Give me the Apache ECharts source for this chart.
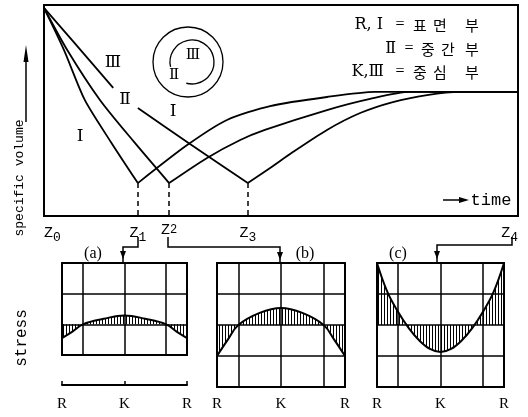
<!DOCTYPE html>
<html>
<head>
<meta charset="utf-8">
<script src="https://cdn.jsdelivr.net/npm/echarts@6/dist/echarts.min.js"></script>
<style>
html,body{margin:0;padding:0;background:#fff;}
#chart{width:528px;height:417px;}
</style>
</head>
<body>
<div id="chart"></div>
<script>
// top diagram: time (0..100) against specific volume (0..100)
var zTicks = [0, 19.8, 26.4, 43.0, 100];
var zNames = ['0', '1', '2', '3', '4'];
var fallI = [[0, 98.6], [4.2, 78.7], [8.6, 55.0], [14.1, 35.1], [19.8, 15.6]];
var fallII = [[0, 98.6], [4.9, 78.7], [11.8, 55.0], [19.0, 35.1], [26.4, 15.6]];
var fallIIIa = [[0, 98.6], [6.1, 82.9], [14.6, 60.7]];
var fallIIIb = [[19.8, 51.2], [30.8, 34.1], [43.0, 15.6]];
var riseI = [[19.8, 15.6], [30.2, 33.6], [38.6, 45.5], [47.7, 52.1], [59.7, 56.4], [69.8, 58.8], [100, 58.8]];
var riseII = [[26.4, 15.6], [34.4, 27.5], [41.4, 36.0], [46.6, 40.8], [59.7, 50.2], [68.8, 55.5], [77.2, 58.8], [100, 58.8]];
var riseIII = [[43.0, 15.6], [47.7, 22.7], [52.5, 30.3], [59.7, 40.8], [66.7, 48.8], [73.6, 54.0], [80.8, 57.3], [87.8, 58.8], [100, 58.8]];

// stress across the section, R (-1.5) .. K (0) .. R (1.5)
var stressA = [[-1.5, -0.45], [-1.25, -0.24], [-1, 0], [-0.5, 0.18], [0, 0.29], [0.5, 0.18], [1, 0], [1.25, -0.24], [1.5, -0.45]];
var stressB = [[-1.5, -1], [-1.25, -0.48], [-1, 0], [-0.5, 0.39], [0, 0.55], [0.5, 0.39], [1, 0], [1.25, -0.48], [1.5, -1]];
var stressC = [[-1.5, 2], [-1.25, 1.05], [-1, 0.42], [-0.75, -0.1], [-0.5, -0.5], [-0.25, -0.77], [0, -0.87], [0.25, -0.77], [0.5, -0.5], [0.75, -0.1], [1, 0.42], [1.25, 1.05], [1.5, 2]];
var panelLines = [-1, 0, 1];

var mono = '"Liberation Mono", "DejaVu Sans Mono", monospace';
var serif = '"Liberation Serif", "DejaVu Serif", serif';
var roman = '"DejaVu Serif", "Liberation Serif", serif';
var cjk = '"Noto Sans CJK KR", sans-serif';

// vertical hatching for the stress areas
var hatch = document.createElement('canvas');
hatch.width = 3; hatch.height = 3;
var hctx = hatch.getContext('2d');
hctx.fillStyle = '#000';
hctx.fillRect(0, 0, 1, 3);

function curve(data) {
  return {
    type: 'line', data: data, xAxisIndex: 0, yAxisIndex: 0,
    smooth: 0.25, symbol: 'none', silent: true,
    lineStyle: {color: '#000', width: 1.8}
  };
}
function rise(data) {
  var s = curve(data);
  var p = data[0];
  s.markLine = {
    silent: true, symbol: 'none', label: {show: false},
    lineStyle: {color: '#000', type: [5, 4], width: 1.5},
    data: [[{coord: [p[0], p[1]]}, {coord: [p[0], 0]}]]
  };
  return s;
}
function panel(idx, data) {
  return {
    type: 'line', data: data, xAxisIndex: idx, yAxisIndex: idx,
    smooth: 0.4, symbol: 'none', silent: true,
    lineStyle: {color: '#000', width: 2},
    areaStyle: {color: {image: hatch, repeat: 'repeat'}, opacity: 1},
    markLine: {
      silent: true, symbol: 'none', label: {show: false},
      lineStyle: {color: '#000', type: 'solid', width: 1.5},
      data: panelLines.map(function (v) { return {xAxis: v}; })
    }
  };
}
function panelX(idx, offset, showLine) {
  return {
    type: 'value', gridIndex: idx, min: -1.5, max: 1.5, interval: 1.5,
    offset: offset,
    axisLine: {show: showLine, onZero: false, lineStyle: {color: '#000', width: 2}},
    axisTick: {show: showLine, inside: true, length: 4, lineStyle: {color: '#000', width: 1.5}},
    splitLine: {show: false},
    axisLabel: {
      margin: showLine ? 12 : 10, color: '#000', fontFamily: serif, fontSize: 15,
      formatter: function (v) { return Math.abs(v) < 0.01 ? 'K' : 'R'; }
    }
  };
}
function panelY(idx, min, max) {
  return {
    type: 'value', gridIndex: idx, min: min, max: max, interval: 1,
    axisLine: {show: false}, axisTick: {show: false}, axisLabel: {show: false},
    splitLine: {show: true, lineStyle: {color: '#000', width: 1.5}}
  };
}
function txt(t, x, y, size, family, align, rot) {
  return {
    type: 'text', x: x, y: y, rotation: rot || 0, silent: true,
    style: {
      text: t, fill: '#000', fontSize: size, fontFamily: family,
      align: align || 'center', verticalAlign: 'middle',
      textAlign: align || 'center', textVerticalAlign: 'middle'
    }
  };
}
function line(points, w) {
  return {type: 'polyline', silent: true, shape: {points: points},
    style: {stroke: '#000', lineWidth: w || 1.5, fill: null}};
}
function head(points) {
  return {type: 'polygon', silent: true, shape: {points: points}, style: {fill: '#000'}};
}
function downArrow(x, y) {
  return head([[x - 3, y - 8], [x + 3, y - 8], [x, y]]);
}
// one legend row: label, "=", then the three hangul syllables
function legendRow(label, labelRight, eqX, word, xs, y) {
  var out = [txt(label, labelRight, y, 16, roman, 'right'), txt('=', eqX, y, 16, serif)];
  word.split('').forEach(function (ch, k) { out.push(txt(ch, xs[k], y, 15, cjk)); });
  return out;
}

var graphics = [].concat(
  legendRow('R, Ⅰ', 383, 400, '표면부', [420, 440, 472], 25),
  legendRow('Ⅱ', 396, 409, '중간부', [428, 448, 472], 49),
  legendRow('K,Ⅲ', 384, 400, '중심부', [420, 440, 472], 72),
  [
    // zone labels in the top diagram
    txt('Ⅲ', 113, 63, 17, roman),
    txt('Ⅱ', 125, 100, 17, roman),
    txt('Ⅰ', 80, 137, 17, roman),
    txt('Ⅰ', 173, 112, 17, roman),
    // section sketch
    {type: 'circle', silent: true, shape: {cx: 188, cy: 62, r: 35},
      style: {fill: null, stroke: '#000', lineWidth: 1.3}},
    {type: 'arc', silent: true,
      shape: {cx: 192, cy: 62, r: 22, startAngle: 167 * Math.PI / 180, endAngle: 465 * Math.PI / 180, clockwise: true},
      style: {fill: null, stroke: '#000', lineWidth: 1.3}},
    txt('Ⅲ', 193, 55, 15, roman),
    txt('Ⅱ', 174, 75, 15, roman),
    // axis titles
    txt('specific volume', 20, 178, 13, mono, 'center', Math.PI / 2),
    line([[26, 122], [26, 58]], 1.5),
    head([[23.5, 62], [26, 45], [28.5, 62]]),
    txt('stress', 22, 338, 16, mono, 'center', Math.PI / 2),
    txt('time', 491, 200, 17, mono),
    line([[443, 200], [462, 200]], 1.5),
    head([[459, 197], [469, 200], [459, 203]]),
    // panel captions and connectors
    txt('(a)', 93, 254, 16, serif),
    txt('(b)', 305, 254, 16, serif),
    txt('(c)', 398, 254, 16, serif),
    line([[138, 237], [138, 247], [123, 247], [123, 263]]),
    downArrow(123, 259),
    line([[168, 237], [168, 247], [280, 247], [280, 263]]),
    downArrow(280, 260),
    line([[512, 237], [512, 245], [437, 245], [437, 263]]),
    downArrow(437, 259)
  ]
);

var chart = echarts.init(document.getElementById('chart'));
chart.setOption({
  animation: false,
  backgroundColor: '#fff',
  grid: [
    {left: 44, top: 5, width: 474, height: 211, show: true, borderColor: '#000', borderWidth: 2},
    {left: 62, top: 263, width: 125, height: 92, show: true, borderColor: '#000', borderWidth: 2},
    {left: 217, top: 263, width: 128, height: 124, show: true, borderColor: '#000', borderWidth: 2},
    {left: 377, top: 263, width: 127, height: 124, show: true, borderColor: '#000', borderWidth: 2}
  ],
  xAxis: [
    {
      type: 'value', gridIndex: 0, min: 0, max: 100,
      axisLine: {show: false}, axisTick: {show: false}, splitLine: {show: false},
      axisLabel: {
        customValues: zTicks, margin: 7, color: '#000',
        alignMinLabel: 'left', alignMaxLabel: 'right',
        formatter: function (v) {
          var i = 0;
          zTicks.forEach(function (t, k) { if (Math.abs(t - v) < 0.05) i = k; });
          return '{z|Z}{' + (i === 2 ? 'u' : 'd') + '|' + zNames[i] + '}';
        },
        rich: {
          z: {fontFamily: mono, fontSize: 15, color: '#000'},
          d: {fontFamily: mono, fontSize: 13, color: '#000', padding: [8, 0, 0, 0]},
          u: {fontFamily: mono, fontSize: 12, color: '#000', padding: [0, 0, 2, 0]}
        }
      }
    },
    panelX(1, 30, true),
    panelX(2, 0, false),
    panelX(3, 0, false)
  ],
  yAxis: [
    {
      type: 'value', gridIndex: 0, min: 0, max: 100,
      axisLine: {show: false}, axisTick: {show: false},
      axisLabel: {show: false}, splitLine: {show: false}
    },
    panelY(1, -1, 2),
    panelY(2, -2, 2),
    panelY(3, -2, 2)
  ],
  series: [
    curve(fallI), curve(fallII), curve(fallIIIa), curve(fallIIIb),
    rise(riseI), rise(riseII), rise(riseIII),
    panel(1, stressA), panel(2, stressB), panel(3, stressC)
  ],
  graphic: graphics
});
</script>
</body>
</html>
